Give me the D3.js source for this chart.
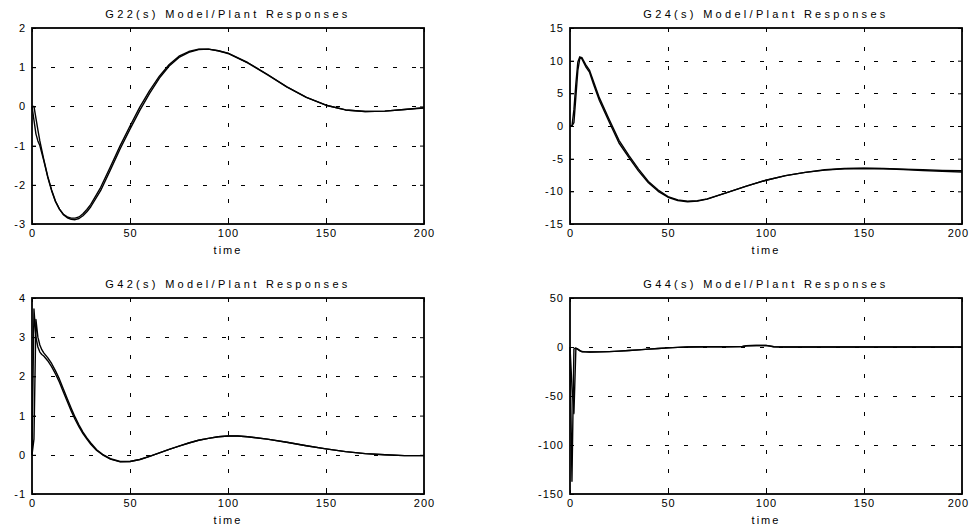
<!DOCTYPE html>
<html>
<head>
<meta charset="utf-8">
<script src="https://cdn.jsdelivr.net/npm/d3@7"></script>
<style>
  html, body { margin: 0; padding: 0; background: #fff; }
  svg { display: block; }
  text { font-family: "Liberation Sans", Arial, sans-serif; fill: #000; }
</style>
</head>
<body>
<svg id="chart" width="971" height="532"></svg>
<script>
// ---------------- DATA ----------------
const xTicks = [0, 50, 100, 150, 200];

const g22Time  = [0,1,2,3,4,6,8,10,12,14,16,18,20,22,24,26,28,30,35,40,45,50,55,60,65,70,75,80,85,90,95,100,110,120,130,140,150,160,170,180,190,200];
const g22Model = [0,0,-0.3,-0.6,-0.88,-1.35,-1.78,-2.13,-2.42,-2.62,-2.76,-2.84,-2.88,-2.89,-2.86,-2.79,-2.69,-2.56,-2.15,-1.62,-1.08,-0.58,-0.1,0.33,0.72,1.03,1.25,1.38,1.45,1.46,1.42,1.36,1.12,0.82,0.5,0.23,0.03,-0.09,-0.13,-0.12,-0.08,-0.03];
const g22Plant = [0,-0.35,-0.7,-0.88,-1.0,-1.38,-1.8,-2.15,-2.43,-2.62,-2.75,-2.82,-2.85,-2.85,-2.82,-2.74,-2.63,-2.5,-2.07,-1.54,-1.0,-0.5,-0.02,0.4,0.77,1.07,1.28,1.4,1.46,1.46,1.42,1.35,1.11,0.81,0.5,0.23,0.03,-0.09,-0.13,-0.12,-0.08,-0.04];
const g22YTicks = [-3, -2, -1, 0, 1, 2];

const g24Time  = [0,1,2,3,4,5,6,8,10,12,15,20,25,30,35,40,45,50,55,60,65,70,80,90,100,110,120,130,140,150,160,170,180,190,200];
const g24Model = [0,0,2.5,6.5,9.8,10.6,10.3,9.1,8.2,6.4,3.9,0.6,-2.6,-4.8,-6.9,-8.7,-10.0,-10.9,-11.4,-11.6,-11.5,-11.2,-10.2,-9.2,-8.3,-7.6,-7.1,-6.7,-6.5,-6.45,-6.5,-6.6,-6.7,-6.8,-6.85];
const g24Plant = [0,0,0.5,4.5,8.5,10.3,10.5,9.4,8.5,6.8,4.3,1.0,-2.2,-4.5,-6.6,-8.5,-9.8,-10.8,-11.3,-11.5,-11.45,-11.15,-10.2,-9.2,-8.3,-7.6,-7.1,-6.75,-6.55,-6.5,-6.55,-6.65,-6.8,-6.95,-7.05];
const g24YTicks = [-15, -10, -5, 0, 5, 10, 15];

const g42Time  = [0,1,2,3,4,5,6,8,10,12,14,16,18,20,22,24,26,28,30,33,36,40,45,50,55,60,65,70,75,80,85,90,95,100,105,110,120,130,140,150,160,170,180,190,200];
const g42Model = [0,3.72,3.0,2.75,2.62,2.56,2.52,2.4,2.25,2.06,1.85,1.6,1.36,1.12,0.9,0.71,0.54,0.4,0.27,0.11,0.0,-0.11,-0.18,-0.17,-0.12,-0.04,0.05,0.14,0.22,0.3,0.37,0.42,0.46,0.48,0.48,0.46,0.4,0.32,0.23,0.15,0.08,0.03,0.0,-0.02,-0.02];
const g42Plant = [0,0.4,3.45,3.0,2.8,2.68,2.6,2.48,2.33,2.14,1.93,1.68,1.43,1.19,0.96,0.76,0.58,0.43,0.3,0.13,0.01,-0.1,-0.17,-0.17,-0.12,-0.04,0.05,0.14,0.22,0.3,0.37,0.42,0.46,0.48,0.48,0.46,0.4,0.32,0.23,0.15,0.08,0.03,0.0,-0.02,-0.02];
const g42YTicks = [-1, 0, 1, 2, 3, 4];

const g44Time  = [0,1,2,3,4,5,6,8,10,15,20,25,30,35,40,45,50,55,60,70,80,88,90,95,100,102,104,110,150,200];
const g44Model = [0,-137,-2,-1,-2.5,-4,-4.8,-5.0,-5.1,-5.0,-4.7,-4.2,-3.6,-2.9,-2.2,-1.5,-0.9,-0.4,0,0.2,0.3,0.5,1.3,1.5,1.6,1.0,0.2,0,0,0];
const g44Plant = [0,-40,-68,-1.5,-2,-3.5,-4.6,-5.0,-5.1,-5.0,-4.7,-4.2,-3.6,-2.9,-2.2,-1.5,-0.9,-0.4,0,0.2,0.3,0.5,1.2,1.5,1.5,0.9,0.2,0,0,0];
const g44YTicks = [-150, -100, -50, 0, 50];

const titles = ["G22(s) Model/Plant Responses", "G24(s) Model/Plant Responses",
                "G42(s) Model/Plant Responses", "G44(s) Model/Plant Responses"];
const xLabel = "time";

// ---------------- LAYOUT ----------------
const panels = [
  { title: titles[0], t: g22Time, series: [g22Model, g22Plant], yTicks: g22YTicks, left: 32,  top: 28 },
  { title: titles[1], t: g24Time, series: [g24Model, g24Plant], yTicks: g24YTicks, left: 570, top: 28 },
  { title: titles[2], t: g42Time, series: [g42Model, g42Plant], yTicks: g42YTicks, left: 32,  top: 298 },
  { title: titles[3], t: g44Time, series: [g44Model, g44Plant], yTicks: g44YTicks, left: 570, top: 298 }
];
const W = 392, H = 196;
const SVG_W = 971;
const fmt = v => String(v);   // plain hyphen-minus, as in the reference

const svg = d3.select("#chart");

panels.forEach(p => {
  const x = d3.scaleLinear().domain([0, 200]).range([p.left, p.left + W]);
  const y = d3.scaleLinear().domain(d3.extent(p.yTicks)).range([p.top + H, p.top]);
  const g = svg.append("g");

  // grid
  const grid = g.append("g").attr("stroke", "#000").attr("stroke-width", 1)
    .attr("stroke-dasharray", "4,15").attr("fill", "none");
  xTicks.slice(1, -1).forEach(v => {
    grid.append("line").attr("x1", Math.round(x(v)) + 0.5).attr("x2", Math.round(x(v)) + 0.5)
      .attr("y1", p.top).attr("y2", p.top + H);
  });
  p.yTicks.slice(1, -1).forEach(v => {
    grid.append("line").attr("y1", Math.round(y(v)) + 0.5).attr("y2", Math.round(y(v)) + 0.5)
      .attr("x1", p.left).attr("x2", p.left + W);
  });

  // axes (inward ticks)
  const xa = g.append("g").attr("transform", `translate(0,${p.top + H})`)
    .call(d3.axisBottom(x).tickValues(xTicks).tickSizeInner(-4).tickSizeOuter(0).tickPadding(5).tickFormat(fmt));
  const xt = g.append("g").attr("transform", `translate(0,${p.top})`)
    .call(d3.axisTop(x).tickValues(xTicks).tickSizeInner(-4).tickSizeOuter(0).tickFormat(""));
  const ya = g.append("g").attr("transform", `translate(${p.left},0)`)
    .call(d3.axisLeft(y).tickValues(p.yTicks).tickSizeInner(-4).tickSizeOuter(0).tickPadding(6).tickFormat(fmt));
  const yr = g.append("g").attr("transform", `translate(${p.left + W},0)`)
    .call(d3.axisRight(y).tickValues(p.yTicks).tickSizeInner(-4).tickSizeOuter(0).tickFormat(""));
  [xa, xt, ya, yr].forEach(a => {
    a.select(".domain").remove();
    a.selectAll(".tick line").attr("stroke", "#000").attr("stroke-width", 1);
    a.selectAll("text").attr("font-size", 11).attr("letter-spacing", "1px")
      .attr("font-family", "'Liberation Sans', Arial, sans-serif").attr("fill", "#000");
  });
  // keep the last x tick label inside the page
  xa.selectAll(".tick").each(function () {
    const tick = d3.select(this);
    const txt = tick.select("text");
    const node = txt.node();
    if (!node) return;
    const bb = node.getBBox();
    const m = /translate\(([-\d.]+)/.exec(tick.attr("transform"));
    const tx = m ? +m[1] : 0;
    const overflow = tx + bb.x + bb.width - (SVG_W - 2);
    if (overflow > 0) txt.attr("x", -overflow);
  });

  // curves
  const line = d3.line().x((d, i) => x(p.t[i])).y(d => y(d));
  p.series.forEach(s => {
    g.append("path").datum(s).attr("d", line)
      .attr("fill", "none").attr("stroke", "#000").attr("stroke-width", 1.4)
      .attr("stroke-linejoin", "round");
  });

  // frame
  g.append("rect").attr("x", p.left).attr("y", p.top).attr("width", W).attr("height", H)
    .attr("fill", "none").attr("stroke", "#000").attr("stroke-width", 1.8);

  // title
  g.append("text").attr("x", p.left + W / 2).attr("y", p.top - 10)
    .attr("text-anchor", "middle").attr("font-size", 11).attr("letter-spacing", "3.3px")
    .text(p.title);

  // x label
  g.append("text").attr("x", p.left + W / 2).attr("y", p.top + H + 30)
    .attr("text-anchor", "middle").attr("font-size", 11).attr("letter-spacing", "2px")
    .text(xLabel);
});
</script>
</body>
</html>
